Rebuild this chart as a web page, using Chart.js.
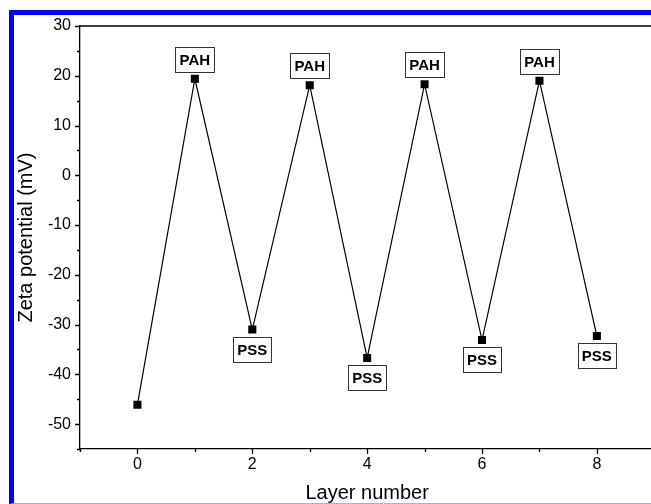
<!DOCTYPE html>
<html><head><meta charset="utf-8">
<script src="https://cdn.jsdelivr.net/npm/chart.js@4"></script>
<style>
html,body{margin:0;padding:0;overflow:hidden;background:#fff;width:651px;height:504px}
#wrap{position:absolute;left:0;top:0;width:660px;height:504px}
#frame{position:absolute;left:9px;top:10px;width:700px;height:494px;border-left:5px solid #0000ff;border-top:5px solid #0000ff;border-bottom:1px solid #a8a8ff;box-sizing:border-box;pointer-events:none}
</style></head>
<body>
<div id="wrap"><canvas id="c" width="660" height="504"></canvas></div>
<div id="frame"></div>
<script>
const layers = [0, 1, 2, 3, 4, 5, 6, 7, 8];
const zeta = [-46.1, 19.4, -31.0, 18.1, -36.7, 18.3, -33.1, 19.0, -32.3];
const pointLabels = ['', 'PAH', 'PSS', 'PAH', 'PSS', 'PAH', 'PSS', 'PAH', 'PSS'];
const yMajor = [30, 20, 10, 0, -10, -20, -30, -40, -50];
const yMinor = [25, 15, 5, -5, -15, -25, -35, -45, -55];
const xMajor = [0, 2, 4, 6, 8];
const xMinor = [-1, 1, 3, 5, 7, 9];
const xTitle = 'Layer number';
const yTitle = 'Zeta potential (mV)';

const FONT = '"Liberation Sans", Arial, sans-serif';

const decor = {
  id: 'decor',
  afterDraw(chart) {
    const ctx = chart.ctx, a = chart.chartArea;
    const xs = chart.scales.x, ys = chart.scales.y;
    ctx.save();
    ctx.strokeStyle = '#000';
    ctx.lineWidth = 1.3;
    // top frame
    ctx.beginPath();
    ctx.moveTo(a.left, a.top); ctx.lineTo(a.right, a.top);
    ctx.stroke();
    // ticks
    ctx.beginPath();
    yMajor.forEach(v => { const p = Math.round(ys.getPixelForValue(v)) + 0.5; ctx.moveTo(a.left - 5, p); ctx.lineTo(a.left, p); });
    yMinor.forEach(v => { const p = Math.round(ys.getPixelForValue(v)) + 0.5; ctx.moveTo(a.left - 3, p); ctx.lineTo(a.left, p); });
    xMajor.forEach(v => { const p = Math.round(xs.getPixelForValue(v)) + 0.5; ctx.moveTo(p, a.bottom); ctx.lineTo(p, a.bottom + 5); });
    xMinor.forEach(v => { const p = Math.round(xs.getPixelForValue(v)) + 0.5; ctx.moveTo(p, a.bottom); ctx.lineTo(p, a.bottom + 3); });
    ctx.stroke();
    // titles
    ctx.fillStyle = '#000';
    ctx.font = '20px ' + FONT;
    ctx.textAlign = 'center';
    ctx.textBaseline = 'alphabetic';
    ctx.fillText(xTitle, (a.left + a.right) / 2, 499);
    ctx.save();
    ctx.translate(31.5, (a.top + a.bottom) / 2);
    ctx.rotate(-Math.PI / 2);
    ctx.fillText(yTitle, 0, 0);
    ctx.restore();
    // point label boxes
    ctx.font = 'bold 15px ' + FONT;
    ctx.textBaseline = 'middle';
    layers.forEach((lx, i) => {
      const t = pointLabels[i];
      if (!t) return;
      const px = xs.getPixelForValue(lx), py = ys.getPixelForValue(zeta[i]);
      const w = Math.round(ctx.measureText(t).width + 8), h = 25;
      const above = t === 'PAH';
      const top = above ? py - 7 - h : py + 7;
      const left = Math.round(px - w / 2);
      ctx.fillStyle = '#fff';
      ctx.fillRect(left, Math.round(top), w, h);
      ctx.strokeStyle = '#333';
      ctx.lineWidth = 1;
      ctx.strokeRect(left + 0.5, Math.round(top) + 0.5, w, h);
      ctx.fillStyle = '#000';
      ctx.fillText(t, px, Math.round(top) + h / 2 + 1);
    });
    ctx.restore();
  }
};

new Chart(document.getElementById('c'), {
  type: 'scatter',
  data: {
    datasets: [{
      data: layers.map((x, i) => ({ x: x, y: zeta[i] })),
      showLine: true,
      borderColor: '#000',
      borderWidth: 1.2,
      backgroundColor: '#000',
      pointStyle: 'rect',
      pointRadius: 5.7,
      pointBorderWidth: 0,
      pointHoverRadius: 5.7
    }]
  },
  options: {
    responsive: false,
    animation: false,
    events: [],
    layout: { padding: { left: 0, top: 26, right: 1, bottom: 0 } },
    plugins: { legend: { display: false }, tooltip: { enabled: false } },
    scales: {
      x: {
        type: 'linear', min: -1, max: 9,
        afterBuildTicks: s => { s.ticks = xMajor.map(v => ({ value: v })); },
        afterFit: s => { s.height = 55; },
        grid: { display: true, drawOnChartArea: false, drawTicks: false },
        border: { display: true, color: '#000', width: 1.3 },
        ticks: { color: '#000', font: { family: FONT, size: 16 }, padding: 6, maxRotation: 0 }
      },
      y: {
        type: 'linear', min: -55, max: 30,
        afterBuildTicks: s => { s.ticks = yMajor.map(v => ({ value: v })); },
        afterFit: s => { s.width = 80; },
        grid: { display: true, drawOnChartArea: false, drawTicks: false },
        border: { display: true, color: '#000', width: 1.3 },
        ticks: { color: '#000', font: { family: FONT, size: 16 }, padding: 9 }
      }
    }
  },
  plugins: [decor]
});
</script>
</body></html>
